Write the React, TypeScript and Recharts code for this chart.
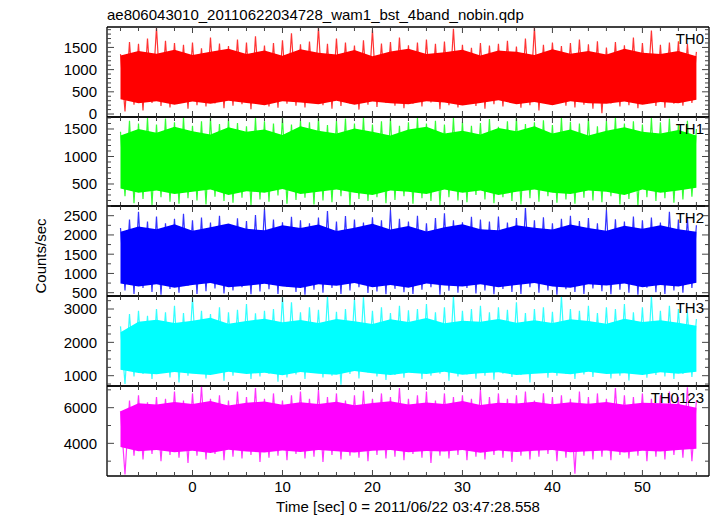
import React from 'react';
import { ComposedChart, Line, Area, XAxis, YAxis } from 'recharts';

const FONT = "'Liberation Sans', Arial, Helvetica, sans-serif";

const titleText = 'ae806043010_20110622034728_wam1_bst_4band_nobin.qdp';
const xLabelText = 'Time [sec] 0 = 2011/06/22 03:47:28.558';
const yLabelText = 'Counts/sec';

const xDomain = [-9.5, 57.4];
const xTicks = [-8, -6, -4, -2, 0, 2, 4, 6, 8, 10, 12, 14, 16, 18, 20, 22, 24, 26, 28, 30, 32, 34, 36, 38, 40, 42, 44, 46, 48, 50, 52, 54, 56];
const xLabels = [0, 10, 20, 30, 40, 50];
const T0 = -8;

// ---------- TH0 ----------
const th0Hi = [
  1350, 1620, 1580, 1700, 1950, 1650, 1600, 1560, 1610, 1480,
  1720, 1590, 1530, 1680, 1610, 1750, 1540, 1600, 1660, 1820,
  1570, 1630, 1950, 1580, 1700, 1610, 1540, 1660, 1900, 1590,
  1620, 1720, 1550, 1610, 1680, 1580, 1630, 1920, 1560, 1490,
  1600, 1540, 1580, 1650, 1520, 1700, 1950, 1560, 1610, 1530,
  1600, 1680, 1570, 1640, 1500, 1620, 1550, 1720, 1600, 1880,
  1560, 1610, 1640, 1580, 1400,
];
const th0Lo = [
  60, 210, 80, 250, 180, 150, 260, 120, 200, 170,
  240, 130, 190, 220, 110, 260, 170, 140, 230, 190,
  150, 270, 200, 120, 180, 240, 100, 210, 160, 250,
  190, 130, 230, 170, 260, 110, 200, 150, 240, 180,
  120, 220, 170, 250, 140, 200, 80, 230, 260, 190,
  150, 210, 120, 20, 240, 170, 200, 130, 260, 180,
  140, 230, 190, 250,
];
const th0CoreHi = [
  1320, 1420, 1360, 1450, 1330, 1400, 1470, 1350, 1430, 1310,
  1460, 1380, 1340, 1440, 1300, 1410, 1470, 1350, 1390, 1450,
  1320, 1430, 1400, 1330, 1460, 1360, 1420, 1340, 1470, 1380,
  1350, 1420, 1300,
];
const th0CoreLo = [
  330, 240, 290, 210, 280, 230, 300, 250, 200, 290,
  260, 220, 300, 210, 280, 240, 220, 290, 260, 190,
  250, 310, 220, 270, 200, 290, 240, 230, 280, 210,
  270, 240, 320,
];
const th0Ticks = [0, 100, 200, 300, 400, 500, 600, 700, 800, 900, 1000, 1100, 1200, 1300, 1400, 1500, 1600, 1700, 1800, 1900];
const th0Labels = [0, 500, 1000, 1500];

// ---------- TH1 ----------
const th1Hi = [
  1450, 1650, 1600, 1700, 1580, 1690, 1620, 1710, 1560, 1640,
  1700, 1590, 1680, 1610, 1550, 1700, 1640, 1600, 1710, 1580,
  1660, 1620, 1700, 1570, 1650, 1690, 1600, 1710, 1580, 1640,
  1690, 1560, 1620, 1700, 1600, 1650, 1580, 1700, 1630, 1560,
  1610, 1680, 1540, 1640, 1700, 1590, 1620, 1660, 1570, 1700,
  1630, 1600, 1690, 1550, 1650, 1710, 1600, 1640, 1580, 1700,
  1620, 1690, 1590, 1650, 1500,
];
const th1Lo = [
  280, 150, 230, 120, 260, 180, 140, 240, 200, 130,
  270, 190, 160, 250, 120, 220, 180, 290, 140, 210,
  250, 130, 200, 170, 280, 110, 230, 190, 260, 150,
  210, 280, 140, 240, 190, 120, 260, 200, 170, 300,
  220, 150, 260, 190, 130, 240, 180, 280, 160, 220,
  140, 250, 200, 170, 280, 130, 230, 110, 260, 190,
  240, 160, 220, 270,
];
const th1CoreHi = [
  1380, 1500, 1430, 1540, 1460, 1400, 1530, 1450, 1490, 1390,
  1550, 1470, 1420, 1510, 1450, 1380, 1490, 1540, 1420, 1470,
  1400, 1520, 1460, 1550, 1420, 1490, 1380, 1470, 1530, 1450,
  1420, 1480, 1380,
];
const th1CoreLo = [
  420, 340, 380, 320, 360, 400, 300, 370, 340, 410,
  320, 360, 400, 340, 300, 380, 360, 320, 400, 340,
  380, 300, 360, 400, 340, 320, 380, 360, 300, 400,
  340, 380, 430,
];
const th1Ticks = [200, 300, 400, 500, 600, 700, 800, 900, 1000, 1100, 1200, 1300, 1400, 1500, 1600, 1700];
const th1Labels = [500, 1000, 1500];

// ---------- TH2 ----------
const th2Hi = [
  2180, 2400, 2600, 2350, 2480, 2300, 2420, 2550, 2380, 2450,
  2320, 2500, 2280, 2430, 2360, 2520, 2680, 2400, 2330, 2470,
  2380, 2300, 2450, 2620, 2350, 2490, 2400, 2320, 2460, 2380,
  2650, 2420, 2350, 2500, 2300, 2440, 2560, 2380, 2330, 2470,
  2400, 2350, 2480, 2320, 2440, 2700, 2380, 2460, 2300, 2420,
  2500, 2360, 2440, 2300, 2650, 2410, 2350, 2480, 2380, 2450,
  2320, 2600, 2400, 2450, 2250,
];
const th2Lo = [
  560, 470, 620, 520, 450, 600, 500, 680, 470, 540,
  610, 480, 560, 640, 460, 530, 590, 470, 650, 520,
  450, 580, 500, 620, 470, 560, 640, 490, 530, 460,
  600, 510, 470, 580, 640, 450, 550, 500, 620, 480,
  560, 460, 600, 520, 470, 640, 500, 560, 450, 590,
  520, 470, 610, 540, 460, 580, 500, 450, 630, 510,
  470, 560, 500, 620,
];
const th2CoreHi = [
  2080, 2220, 2150, 2280, 2110, 2200, 2300, 2160, 2120, 2250,
  2180, 2270, 2100, 2190, 2290, 2140, 2230, 2090, 2200, 2280,
  2150, 2120, 2250, 2190, 2140, 2270, 2180, 2110, 2240, 2160,
  2250, 2150, 2080,
];
const th2CoreLo = [
  740, 660, 720, 630, 700, 750, 640, 680, 730, 660,
  620, 720, 680, 750, 640, 700, 630, 740, 690, 660,
  720, 640, 700, 750, 660, 630, 720, 690, 740, 640,
  700, 660, 760,
];
const th2Ticks = [500, 750, 1000, 1250, 1500, 1750, 2000, 2250, 2500, 2750];
const th2Labels = [500, 1000, 1500, 2000, 2500];

// ---------- TH3 ----------
const th3Hi = [
  2480, 2850, 2950, 2800, 3000, 2900, 3100, 2880, 3350, 2950,
  2850, 3050, 2900, 2980, 3150, 2870, 2950, 3000, 3380, 3200,
  2900, 3050, 2980, 3380, 2920, 3000, 3300, 3350, 2950, 3050,
  2880, 3100, 2960, 3000, 3150, 2900, 3050, 3380, 2950, 3000,
  3100, 2900, 3050, 2980, 3200, 2880, 3000, 3050, 2920, 3380,
  3000, 2950, 3100, 2880, 3050, 3000, 3150, 2900, 3050, 3380,
  2950, 3100, 3000, 2900, 2700,
];
const th3Lo = [
  750, 980, 1050, 900, 1100, 950, 800, 1000, 1080, 920,
  1050, 850, 1000, 1120, 900, 980, 1060, 820, 950, 1040,
  900, 1080, 950, 1000, 730, 1050, 920, 1100, 980, 870,
  1020, 940, 1080, 900, 1000, 1060, 850, 980, 1040, 910,
  1000, 880, 1060, 960, 1020, 800, 1080, 940, 1000, 1050,
  900, 1040, 960, 1080, 920, 1000, 860, 1060, 940, 1020,
  980, 900, 1050, 960,
];
const th3CoreHi = [
  2300, 2620, 2680, 2580, 2650, 2740, 2560, 2640, 2710, 2600,
  2670, 2580, 2700, 2630, 2550, 2690, 2610, 2730, 2570, 2650,
  2620, 2700, 2590, 2660, 2580, 2690, 2640, 2560, 2710, 2610,
  2660, 2590, 2500,
];
const th3CoreLo = [
  1180, 1080, 1040, 1110, 1060, 1020, 1120, 1050, 1090, 1010,
  1110, 1060, 1030, 1140, 1070, 1020, 1090, 1050, 1120, 1030,
  1070, 1100, 1020, 1060, 1090, 1040, 1120, 1050, 1070, 1020,
  1100, 1060, 1120,
];
const th3Ticks = [750, 1000, 1250, 1500, 1750, 2000, 2250, 2500, 2750, 3000, 3250];
const th3Labels = [1000, 2000, 3000];

// ---------- TH0123 ----------
const thAllHi = [
  5800, 6400, 6700, 6300, 6600, 6500, 6900, 6400, 6800, 7200,
  6500, 6700, 6400, 6900, 6600, 7100, 6500, 6800, 6400, 6700,
  6900, 6500, 7000, 6600, 6800, 6400, 6700, 6950, 6500, 6800,
  6600, 7100, 6500, 6700, 6900, 6400, 6800, 6600, 6700, 6500,
  7000, 6600, 6800, 6500, 6700, 6900, 6400, 6800, 6600, 6700,
  6500, 6900, 6600, 6800, 6500, 7100, 6700, 6600, 6800, 6500,
  6700, 6900, 6600, 7150, 6400,
];
const thAllLo = [
  2250, 3300, 3100, 3400, 3000, 3350, 3200, 2900, 3300, 3100,
  3400, 3050, 3250, 3150, 3350, 2950, 3200, 3300, 3050, 3400,
  3150, 3250, 2950, 3350, 3100, 3300, 3200, 3000, 3350, 3150,
  3250, 3050, 3400, 3200, 2900, 3300, 3150, 3350, 3050, 3250,
  3100, 3350, 3200, 2950, 3300, 3100, 3250, 3400, 3000, 3200,
  2300, 3300, 3100, 3250, 3050, 3350, 3150, 3300, 3000, 3250,
  3100, 3350, 3200, 3000,
];
const thAllCoreHi = [
  5800, 6250, 6180, 6320, 6200, 6380, 6120, 6270, 6350, 6170,
  6300, 6210, 6330, 6140, 6260, 6360, 6180, 6290, 6200, 6370,
  6150, 6280, 6240, 6330, 6190, 6300, 6220, 6320, 6170, 6280,
  6250, 6200, 6000,
];
const thAllCoreLo = [
  3800, 3550, 3620, 3500, 3580, 3460, 3640, 3540, 3480, 3600,
  3520, 3630, 3560, 3490, 3590, 3620, 3500, 3570, 3540, 3630,
  3470, 3600, 3520, 3580, 3620, 3500, 3560, 3600, 3480, 3590,
  3540, 3630, 3700,
];
const thAllTicks = [3000, 4000, 5000, 6000, 7000];
const thAllLabels = [4000, 6000];

const spikeSeries = (hi: number[], lo: number[]) => {
  const out: { t: number; v: number }[] = [];
  hi.forEach((h, i) => {
    out.push({ t: T0 + i, v: h });
    if (i < lo.length) out.push({ t: T0 + i + 0.5, v: lo[i] });
  });
  return out;
};
const coreSeries = (hi: number[], lo: number[]) =>
  hi.map((h, j) => ({ t: T0 + 2 * j, r: [lo[j], h] }));

const PLOT_L = 107;
const PLOT_R = 709;
const PAD = 10;
const TICK = '#444';

const panels = [
  { name: 'TH0', color: '#ff0000', top: 27, bottom: 117, domain: [-67, 1960], ticks: th0Ticks, labels: th0Labels, hi: th0Hi, lo: th0Lo, cHi: th0CoreHi, cLo: th0CoreLo },
  { name: 'TH1', color: '#00ff00', top: 117, bottom: 206, domain: [100, 1718], ticks: th1Ticks, labels: th1Labels, hi: th1Hi, lo: th1Lo, cHi: th1CoreHi, cLo: th1CoreLo },
  { name: 'TH2', color: '#0000ff', top: 206, bottom: 296, domain: [414, 2752], ticks: th2Ticks, labels: th2Labels, hi: th2Hi, lo: th2Lo, cHi: th2CoreHi, cLo: th2CoreLo },
  { name: 'TH3', color: '#00ffff', top: 296, bottom: 386, domain: [691, 3390], ticks: th3Ticks, labels: th3Labels, hi: th3Hi, lo: th3Lo, cHi: th3CoreHi, cLo: th3CoreLo },
  { name: 'TH0123', color: '#ff00ff', top: 386, bottom: 476, domain: [2168, 7216], ticks: thAllTicks, labels: thAllLabels, hi: thAllHi, lo: thAllLo, cHi: thAllCoreHi, cLo: thAllCoreLo },
];

const yTick = (side: 'l' | 'r', labels: number[]) => (props: any) => {
  const { x, y, payload } = props;
  const major = labels.includes(payload.value);
  const len = major ? 7 : 4;
  const dir = side === 'l' ? 1 : -1;
  return (
    <g>
      <line x1={x} y1={y} x2={x + dir * len} y2={y} stroke={TICK} strokeWidth={1} />
      {side === 'l' && major ? (
        <text x={x - 10} y={y} dy="0.36em" textAnchor="end" fontSize={15} fontFamily={FONT} fill="#000">
          {payload.value}
        </text>
      ) : null}
    </g>
  );
};

const xTick = (side: 'b' | 't', showLabels: boolean) => (props: any) => {
  const { x, y, payload } = props;
  const major = xLabels.includes(payload.value);
  const len = major ? 6 : 4;
  const dir = side === 'b' ? -1 : 1;
  return (
    <g>
      <line x1={x} y1={y} x2={x} y2={y + dir * len} stroke={TICK} strokeWidth={1} />
      {showLabels && major ? (
        <text x={x} y={y + 16} textAnchor="middle" fontSize={15} fontFamily={FONT} fill="#000">
          {payload.value}
        </text>
      ) : null}
    </g>
  );
};

function Panel({ p, last }: { p: (typeof panels)[number]; last: boolean }) {
  const h = p.bottom - p.top;
  const extraBottom = last ? 30 : 0;
  const spikes = spikeSeries(p.hi, p.lo);
  const core = coreSeries(p.cHi, p.cLo);
  const axisLine = { stroke: '#000', strokeWidth: 1.3 };
  return (
    <div style={{ position: 'absolute', left: 0, top: p.top - PAD }}>
      <ComposedChart
        width={717}
        height={h + 2 * PAD + extraBottom}
        margin={{ top: PAD - 1, right: 717 - PLOT_R - 1, bottom: PAD - 1 + extraBottom, left: 0 }}
      >
        <XAxis xAxisId="b" orientation="bottom" type="number" dataKey="t" domain={xDomain} ticks={xTicks} interval={0}
          allowDataOverflow height={1} tickSize={0} tickMargin={0} axisLine={axisLine} tickLine={false} tick={xTick('b', last)} />
        <XAxis xAxisId="t" orientation="top" type="number" dataKey="t" domain={xDomain} ticks={xTicks} interval={0}
          allowDataOverflow height={1} tickSize={0} tickMargin={0} axisLine={axisLine} tickLine={false} tick={xTick('t', false)} />
        <YAxis yAxisId="l" orientation="left" type="number" domain={p.domain} ticks={p.ticks} interval={0}
          allowDataOverflow width={PLOT_L} tickSize={0} tickMargin={0} axisLine={axisLine} tickLine={false} tick={yTick('l', p.labels)} />
        <YAxis yAxisId="r" orientation="right" type="number" domain={p.domain} ticks={p.ticks} interval={0}
          allowDataOverflow width={1} tickSize={0} tickMargin={0} axisLine={axisLine} tickLine={false} tick={yTick('r', p.labels)} />
        <Line xAxisId="b" yAxisId="l" data={spikes} dataKey="v" type="linear" stroke={p.color} strokeWidth={1.2}
          strokeOpacity={0.8} dot={false} activeDot={false} isAnimationActive={false} />
        <Area xAxisId="b" yAxisId="l" data={core} dataKey="r" type="linear" stroke="none" fill={p.color}
          fillOpacity={1} isAnimationActive={false} />
      </ComposedChart>
    </div>
  );
}

export default function App() {
  return (
    <div style={{ position: 'absolute', left: 0, top: 0, width: 717, height: 516, background: '#fff', overflow: 'hidden' }}>
      {panels.map((p, i) => (
        <Panel key={p.name} p={p} last={i === panels.length - 1} />
      ))}
      <svg width={717} height={516} style={{ position: 'absolute', left: 0, top: 0, pointerEvents: 'none' }}>
        <text x={107} y={20} fontSize={15} fontFamily={FONT} fill="#000">{titleText}</text>
        {panels.map((p) => (
          <text key={p.name} x={704} y={p.top + 17} fontSize={15} fontFamily={FONT} textAnchor="end" fill="#000">
            {p.name}
          </text>
        ))}
        <text x={408} y={512} fontSize={15} fontFamily={FONT} textAnchor="middle" fill="#000">{xLabelText}</text>
        <text x={46} y={256} fontSize={15} fontFamily={FONT} textAnchor="middle" fill="#000" transform="rotate(-90 46 256)">
          {yLabelText}
        </text>
      </svg>
    </div>
  );
}
